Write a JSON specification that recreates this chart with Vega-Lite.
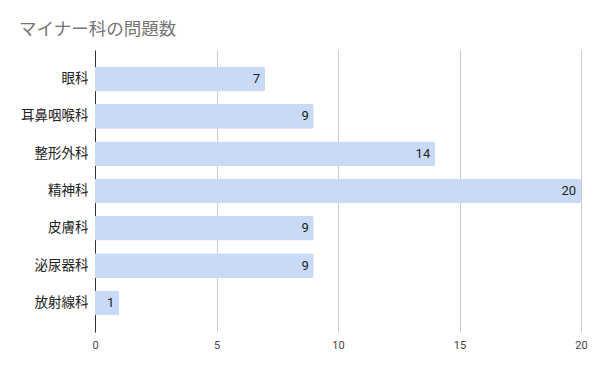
{
  "$schema": "https://vega.github.io/schema/vega-lite/v6.json",
  "autosize": "none",
  "width": 486,
  "height": 282,
  "padding": {"left": 95, "top": 50, "right": 19, "bottom": 39},
  "background": "white",
  "title": {
    "text": "マイナー科の問題数",
    "anchor": "start",
    "frame": "group",
    "dx": -76,
    "offset": 12,
    "font": "Noto Sans CJK JP",
    "fontSize": 17.5,
    "fontWeight": "normal",
    "color": "#757575"
  },
  "config": {"view": {"stroke": null}},
  "data": {
    "values": [
      {"dept": "眼科", "count": 7},
      {"dept": "耳鼻咽喉科", "count": 9},
      {"dept": "整形外科", "count": 14},
      {"dept": "精神科", "count": 20},
      {"dept": "皮膚科", "count": 9},
      {"dept": "泌尿器科", "count": 9},
      {"dept": "放射線科", "count": 1}
    ]
  },
  "encoding": {
    "y": {
      "field": "dept",
      "type": "nominal",
      "sort": null,
      "scale": {"paddingInner": 0.34, "paddingOuter": 0.45},
      "axis": {
        "title": null,
        "ticks": false,
        "labelPadding": 7,
        "labelFont": "Noto Sans CJK JP",
        "labelFontSize": 13.5,
        "labelColor": "#222222",
        "domainColor": "#333333",
        "domainWidth": 1
      }
    },
    "x": {
      "field": "count",
      "type": "quantitative",
      "scale": {"domain": [0, 20], "nice": false},
      "axis": {
        "title": null,
        "values": [0, 5, 10, 15, 20],
        "domain": false,
        "ticks": false,
        "labelFlush": false,
        "labelPadding": 7,
        "labelFont": "Roboto",
        "labelFontSize": 11,
        "labelColor": "#444444",
        "gridColor": "#cccccc",
        "gridWidth": 1
      }
    }
  },
  "layer": [
    {
      "mark": {"type": "bar", "color": "#c9daf8", "cornerRadiusEnd": 2}
    },
    {
      "mark": {
        "type": "text",
        "align": "right",
        "baseline": "middle",
        "dx": -5,
        "font": "Roboto",
        "fontSize": 13,
        "color": "#222222"
      },
      "encoding": {"text": {"field": "count", "type": "quantitative"}}
    }
  ]
}
